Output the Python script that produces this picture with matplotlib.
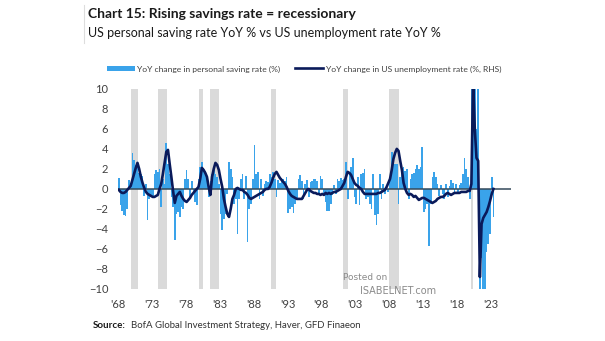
import numpy as np
import matplotlib
matplotlib.use("Agg")
import matplotlib.pyplot as plt
from matplotlib.lines import Line2D
from matplotlib.patches import Patch

plt.rcParams['font.family'] = ['Lato', 'DejaVu Sans']

# Quarterly data, 1968Q1 .. 2023Q2
start_year = 1968
saving_yoy = [
    1.1, -1.6, -2.2, -2.6,   # 1968
    -2.7, -2.0, 0.9, 0.5,    # 1969
    3.6, 2.9, 2.4, 2.6,      # 1970
    1.6, 1.5, 1.3, -0.7,     # 1971
    0.5, -3.1, -1.0, -0.8,   # 1972
    -0.7, 1.5, 1.9, 1.7,     # 1973
    2.0, -1.8, 1.0, 0.5,     # 1974
    4.6, 2.5, 1.5, -0.8,     # 1975
    -1.8, -5.1, -2.5, -2.3,  # 1976
    -2.8, -1.8, -2.0, 1.0,   # 1977
    1.9, 1.0, -1.0, 0.8,     # 1978
    -0.5, -1.3, -1.6, 1.0,   # 1979
    2.2, 2.7, 2.0, 1.8,      # 1980
    1.3, -0.8, 0.8, 1.5,     # 1981
    1.9, 1.5, 1.2, 0.5,      # 1982
    -2.5, -4.1, -3.0, -2.5,  # 1983
    -0.5, 2.7, 2.0, 1.2,     # 1984
    -1.5, -1.0, -4.5, -1.0,  # 1985
    1.0, 1.5, -1.0, 1.3,     # 1986
    -5.3, -2.0, -1.5, 1.0,   # 1987
    4.4, 1.5, 1.7, -1.0,     # 1988
    1.0, -0.7, 0.5, 0.8,     # 1989
    0.7, 1.5, 1.2, 1.7,      # 1990
    1.0, -0.8, 0.9, 0.6,     # 1991
    1.1, 1.0, 0.8, 1.2,      # 1992
    -2.4, -2.0, -1.8, -2.4,  # 1993
    -1.5, -1.0, 1.0, 1.4,    # 1994
    0.8, -1.0, 0.5, 0.9,     # 1995
    -0.8, 0.7, 0.8, 1.0,     # 1996
    1.0, 0.8, -0.5, 1.3,     # 1997
    1.0, -0.5, -1.3, -2.2,   # 1998
    -2.2, -1.5, -0.6, 0.4,   # 1999
    -0.5, 1.0, 0.8, 1.1,     # 2000
    0.9, 1.0, 2.7, -1.0,     # 2001
    1.5, 2.2, 3.1, -0.8,     # 2002
    -1.5, 1.2, -1.6, 1.5,    # 2003
    1.6, 2.0, -1.0, -0.8,    # 2004
    -1.5, -2.0, 1.5, -2.6,   # 2005
    -3.6, -2.5, 1.5, -1.0,   # 2006
    0.5, -0.5, 0.4, -0.3,    # 2007
    1.0, 3.7, 2.9, 2.5,      # 2008
    2.5, -1.5, 1.2, 2.0,     # 2009
    2.2, 1.8, 2.0, -1.0,     # 2010
    1.0, 1.5, 1.6, 2.0,      # 2011
    2.4, 2.0, 2.2, 4.2,      # 2012
    -2.3, -2.0, -1.5, -5.7,  # 2013
    -1.5, 1.2, 1.7, 1.2,     # 2014
    0.5, -0.7, 0.4, -0.5,    # 2015
    -1.0, 0.5, -0.8, 0.3,    # 2016
    0.9, 0.6, -0.4, 0.5,     # 2017
    -0.5, 0.4, 0.6, 1.5,     # 2018
    3.1, 2.0, 1.2, -1.0,     # 2019
    12.0, 25.0, 12.0, 6.0,   # 2020
    14.0, -20.0, -6.9, -15.0,  # 2021
    -18.0, -6.3, -5.5, -4.5, # 2022
    1.2, -2.8,               # 2023
]
unemp_yoy = [
    -0.1, -0.3, -0.4, -0.4,  # 1968
    -0.3, -0.1, 0.1, 0.3,    # 1969
    0.9, 1.5, 2.1, 2.6,      # 1970
    2.0, 1.2, 0.6, 0.1,      # 1971
    -0.3, -0.5, -0.6, -0.7,  # 1972
    -0.8, -0.8, -0.7, -0.6,  # 1973
    0.0, 0.5, 1.5, 2.6,      # 1974
    3.7, 3.9, 2.5, 1.2,      # 1975
    -0.2, -1.4, -0.7, -0.5,  # 1976
    -0.3, -0.7, -1.0, -1.2,  # 1977
    -1.3, -1.1, -0.9, -0.6,  # 1978
    -0.4, -0.2, 0.0, 0.2,    # 1979
    1.0, 2.1, 1.9, 1.6,      # 1980
    1.2, 0.2, -0.6, 1.2,     # 1981
    2.0, 2.6, 2.4, 1.9,      # 1982
    1.0, 0.2, -1.0, -1.8,    # 1983
    -2.5, -2.8, -2.0, -1.0,  # 1984
    -0.6, 0.0, 0.1, 0.0,     # 1985
    -0.1, -0.1, -0.3, -0.4,  # 1986
    -0.6, -0.9, -1.0, -0.9,  # 1987
    -0.8, -0.7, -0.6, -0.5,  # 1988
    -0.4, -0.3, -0.1, 0.0,   # 1989
    0.0, 0.2, 0.6, 1.1,      # 1990
    1.5, 1.7, 1.4, 1.1,      # 1991
    0.9, 0.7, 0.5, 0.2,      # 1992
    -0.2, -0.5, -0.7, -0.8,  # 1993
    -0.9, -1.0, -1.0, -1.0,  # 1994
    -1.0, -0.7, -0.4, -0.1,  # 1995
    0.0, -0.2, -0.3, -0.4,   # 1996
    -0.4, -0.5, -0.5, -0.6,  # 1997
    -0.5, -0.6, -0.4, -0.5,  # 1998
    -0.4, -0.5, -0.4, -0.3,  # 1999
    -0.3, -0.2, -0.1, 0.0,   # 2000
    0.3, 0.6, 1.2, 1.7,      # 2001
    1.6, 1.4, 1.0, 0.6,      # 2002
    0.4, 0.3, 0.1, 0.0,      # 2003
    -0.3, -0.5, -0.5, -0.5,  # 2004
    -0.5, -0.5, -0.5, -0.5,  # 2005
    -0.5, -0.4, -0.4, -0.3,  # 2006
    -0.2, -0.1, 0.2, 0.6,    # 2007
    1.0, 1.9, 3.0, 3.6,      # 2008
    4.0, 3.8, 2.8, 1.9,      # 2009
    0.6, 0.0, -0.4, -0.6,    # 2010
    -0.5, -0.6, -0.8, -0.7,  # 2011
    -0.9, -1.1, -1.0, -0.9,  # 2012
    -0.9, -1.0, -1.1, -1.2,  # 2013
    -1.3, -1.4, -1.3, -1.2,  # 2014
    -1.0, -0.9, -0.8, -0.8,  # 2015
    -0.7, -0.5, -0.4, -0.5,  # 2016
    -0.6, -0.5, -0.4, -0.4,  # 2017
    -0.4, -0.4, -0.3, -0.3,  # 2018
    -0.3, -0.3, -0.2, -0.2,  # 2019
    0.5, 11.0, 6.0, 3.1,     # 2020
    2.8, -8.8, -3.5, -2.9,   # 2021
    -2.6, -2.3, -1.8, -1.2,  # 2022
    -0.5, 0.0,               # 2023
]
recessions = [
    (1969.92, 1970.92), (1973.83, 1975.25), (1980.0, 1980.58),
    (1981.5, 1982.92), (1990.5, 1991.25), (2001.17, 2001.92),
    (2007.92, 2009.5), (2020.08, 2020.33),
]
tick_years = [1968, 1973, 1978, 1983, 1988, 1993, 1998, 2003, 2008, 2013, 2018, 2023]
tick_labels = ["'68", "'73", "'78", "'83", "'88", "'93", "'98", "'03", "'08", "'13", "'18", "'23"]

title = "Chart 15: Rising savings rate = recessionary"
subtitle = "US personal saving rate YoY % vs US unemployment rate YoY %"
legend_labels = ["YoY change in personal saving rate (%)",
                 "YoY change in US unemployment rate (%, RHS)"]
source_label = "Source:"
source_text = "BofA Global Investment Strategy, Haver, GFD Finaeon"

n = len(saving_yoy)
qstart = start_year + 0.25 * np.arange(n)
qmid = qstart + 0.125

BLUE = '#3aa3ea'
NAVY = '#0a1a5a'
GREY = '#dadada'
TXT = '#404040'

fig = plt.figure(figsize=(6.05, 3.41), dpi=100)
ax = fig.add_axes([0.195, 0.1525, 0.65, 0.587])

for a, b in recessions:
    ax.axvspan(a, b, color=GREY, lw=0, zorder=0)

ax.bar(qstart, saving_yoy, width=0.25, align='edge', color=BLUE, lw=0, zorder=2)
ax.axhline(0, color='#34495a', lw=1.1, zorder=3)
ax.plot(qmid, unemp_yoy, color=NAVY, lw=1.9, zorder=4, solid_joinstyle='round')

ax.set_xlim(1968, 2026)
ax.set_ylim(-10, 10)
ax.set_yticks(np.arange(-10, 11, 2))
ax.set_xticks(tick_years)
ax.set_xticklabels(tick_labels)
ax.tick_params(length=0, labelsize=8, colors=TXT, pad=7)
for s in ax.spines.values():
    s.set_visible(False)

# header
fig.text(88 / 605, 1 - 14 / 341, title, fontsize=10, fontweight='bold',
         color='#1a1a1a', va='center', ha='left')
fig.text(88 / 605, 1 - 33 / 341, subtitle, fontsize=9.0, color='#1a1a1a',
         va='center', ha='left')
fig.add_artist(Line2D([84 / 605, 84 / 605], [1 - 5 / 341, 1 - 43 / 341],
                      color='#dddddd', lw=0.8))

handles = [Patch(facecolor=BLUE, edgecolor='none'),
           Line2D([], [], color=NAVY, lw=1.9)]
fig.legend(handles, legend_labels, loc='center', bbox_to_anchor=(304 / 605, 1 - 69 / 341),
           ncol=2, frameon=False, fontsize=6.1, handlelength=3.3, handleheight=0.7,
           columnspacing=1.7, handletextpad=0.3, labelcolor=TXT)

# watermark
fig.text(343 / 605, 1 - 278 / 341, "Posted on", fontsize=6.5, color='#8a8a8a',
         va='center', ha='left', family=['DejaVu Sans'])
fig.text(360 / 605, 1 - 291 / 341, "ISABELNET.com", fontsize=7, color='#8a8a8a',
         va='center', ha='left', family=['DejaVu Sans'])

src = fig.text(93 / 605, 1 - 326 / 341, source_label, fontsize=7.0, fontweight='bold',
               color='#1a1a1a', va='center', ha='left')
fig.canvas.draw()
bb = src.get_window_extent(fig.canvas.get_renderer())
fig.text(bb.x1 / fig.bbox.width + 5 / 605, 1 - 326 / 341, source_text, fontsize=6.9,
         color='#333333', va='center', ha='left')

fig.savefig("out.png", dpi=100)
